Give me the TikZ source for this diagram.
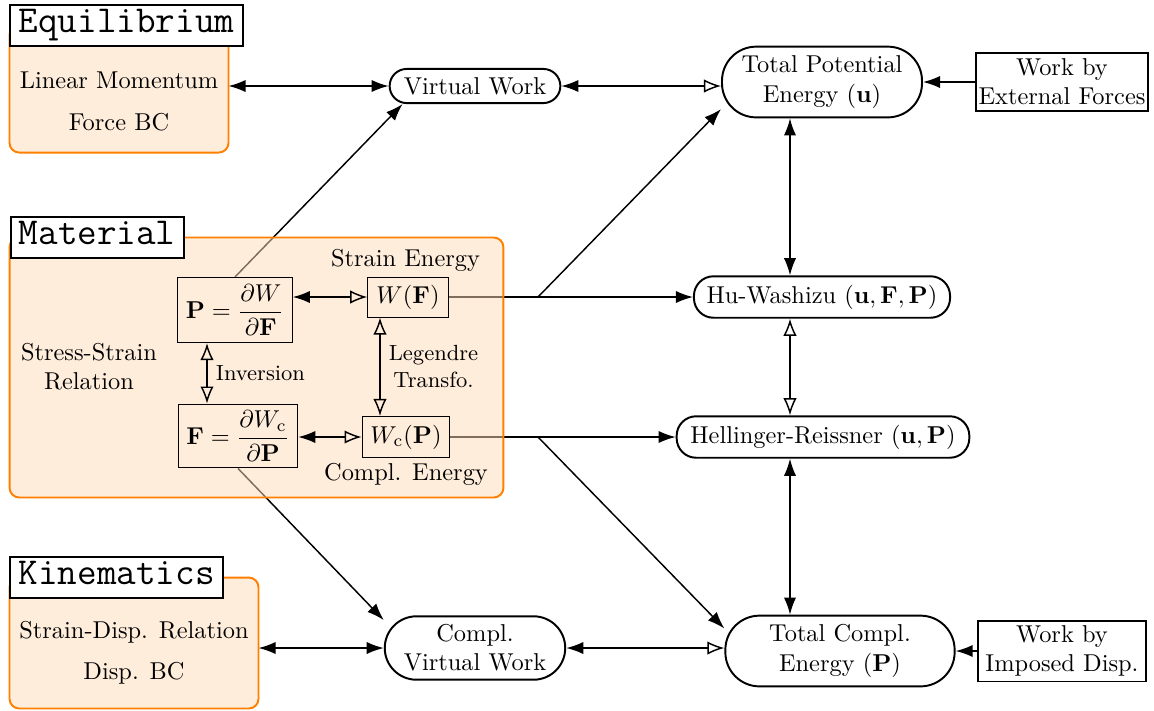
\documentclass[tikz,border=0pt]{standalone}
\usepackage{amsmath}
\usetikzlibrary{arrows.meta,positioning,calc}
\definecolor{panelorange}{RGB}{255,128,0}
\pgfdeclarelayer{lines}
\pgfdeclarelayer{panels}
\pgfsetlayers{lines,panels,main}

\begin{document}
\begin{tikzpicture}[x=0.41pt,y=0.41pt,
    panel/.style={rectangle, inner sep=0pt},
    panelfill/.style={draw=panelorange, line width=0.8pt, fill=panelorange!28, fill opacity=0.5, rounded corners=4pt},
    paneltitle/.style={draw, thick, fill=white, anchor=west, font=\fontsize{15.6}{18}\selectfont\ttfamily, inner xsep=3.4pt, inner ysep=2pt},
    principle/.style={draw, thick, rectangle, align=center, inner xsep=2pt, inner ysep=1pt},
    workbox/.style={draw, thick, rectangle, align=center, inner sep=1pt, minimum width=69pt},
    relbox/.style={draw, thin, rectangle, inner sep=1pt},
    both/.style={semithick, {Latex[length=7pt,width=5pt]}-{Latex[length=7pt,width=5pt]}},
    half/.style={semithick, {Latex[length=7pt,width=5pt]}-{Latex[open,length=7pt,width=5.5pt]}},
    hollow/.style={semithick, {Latex[open,length=7pt,width=5.5pt]}-{Latex[open,length=7pt,width=5.5pt]}},
    feed/.style={semithick, -{Latex[length=7pt,width=5pt]}}
  ]
  \useasboundingbox (0,0) rectangle (1154,-710);

  % panels (filled later, on their own layer)
  \node[panel, minimum width=89.4pt, minimum height=51.7pt] (equi) at (119,-89) {};
  \node[panel, minimum width=202.1pt, minimum height=106.2pt] (mat) at (256.5,-367.5) {};
  \node[panel, minimum width=101.7pt, minimum height=53.3pt] (kin) at (134,-643) {};

  \node (lm) at (119,-80) {Linear Momentum};
  \node (fbc) at (119,-122) {Force BC};
  \node[align=center] (ssr) at (89,-367) {Stress-Strain\\Relation};
  \node (sdr) at (134,-632) {Strain-Disp. Relation};
  \node (dbc) at (134,-673) {Disp. BC};

  % principles
  \node[principle, minimum width=70pt, minimum height=14pt, rounded corners=7pt] (vw) at (475,-86) {Virtual Work};
  \node[principle, minimum width=82pt, minimum height=29pt, rounded corners=14pt] (tpe) at (822,-82) {Total Potential\\Energy $(\mathbf{u})$};
  \node[workbox, minimum height=24pt] (wef) at (1062,-82) {Work by\\External Forces};
  \node[principle, minimum width=105pt, minimum height=17pt, rounded corners=8pt] (hw) at (822,-297) {Hu-Washizu $(\mathbf{u},\mathbf{F},\mathbf{P})$};
  \node[principle, minimum width=120pt, minimum height=17pt, rounded corners=8pt] (hr) at (823,-437) {Hellinger-Reissner $(\mathbf{u},\mathbf{P})$};
  \node[principle, minimum width=94pt, minimum height=29pt, rounded corners=14pt] (tce) at (840,-651) {Total Compl.\\Energy $(\mathbf{P})$};
  \node[workbox, minimum height=25pt] (wid) at (1062,-651) {Work by\\Imposed Disp.};
  \node[principle, minimum width=74pt, minimum height=26pt, rounded corners=13pt] (cvw) at (475,-648) {Compl.\\Virtual Work};

  % material relations
  \node[relbox, minimum width=47pt, minimum height=26.7pt] (pbox) at (235,-310) {$\mathbf{P}=\dfrac{\partial W}{\partial\mathbf{F}}$};
  \node[relbox, minimum width=33pt, minimum height=16.4pt] (wf) at (408,-297) {$W(\mathbf{F})$};
  \node[relbox, minimum width=49pt, minimum height=26.2pt] (fbox) at (238,-436) {$\mathbf{F}=\dfrac{\partial W_{\mathrm{c}}}{\partial\mathbf{P}}$};
  \node[relbox, minimum width=36pt, minimum height=16.8pt] (wc) at (406,-437) {$W_{\mathrm{c}}(\mathbf{P})$};
  \node[above=-1.5pt of wf, xshift=-1pt] (se) {Strain Energy};
  \node[below=-1.5pt of wc] (ce) {Compl. Energy};

  \coordinate (invx) at (207,0);
  \coordinate (legx) at (380,0);
  \coordinate (col) at (790,0);
  \coordinate (jhw) at (538,-297);
  \coordinate (jhr) at (538,-437);

  % connectors
  \draw[both] (vw.west -| equi.east) -- (vw.west);
  \draw[half] (vw.east) -- (vw.east -| tpe.west);
  \draw[feed] (wef.west) -- (tpe.east);
  \draw[both] (tpe.south -| col) -- (hw.north -| col);
  \draw[hollow] (hw.south -| col) -- (hr.north -| col);
  \draw[both] (hr.south -| col) -- (tce.north -| col);
  \draw[both] (cvw.west -| kin.east) -- (cvw.west);
  \draw[half] (cvw.east) -- (cvw.east -| tce.west);
  \draw[feed] (wid.west) -- (tce.east);

  \draw[half] (wf.west -| pbox.east) -- (wf.west);
  \draw[half] (wc.west -| fbox.east) -- (wc.west);
  \draw[hollow] (pbox.south -| invx) -- node[right, font=\small] (inv) {Inversion} (fbox.north -| invx);
  \draw[hollow] (wf.south -| legx) -- node[right, font=\small, align=center] (leg) {Legendre\\Transfo.} (wc.north -| legx);

  % lines leaving the material panel run under its fill
  \begin{pgfonlayer}{lines}
    \draw[feed] (pbox.north) -- (vw.194);
    \draw[feed] (fbox.south) -- (cvw.163);
    \draw[semithick] (wf.east) -- (jhw);
    \draw[feed] (jhw) -- (hw.west);
    \draw[feed] (jhw) -- (tpe.195);
    \draw[semithick] (wc.east) -- (jhr);
    \draw[feed] (jhr) -- (hr.west);
    \draw[feed] (jhr) -- (tce.169);
  \end{pgfonlayer}

  \begin{pgfonlayer}{panels}
    \foreach \p in {equi, mat, kin}
      \draw[panelfill] (\p.south west) rectangle (\p.north east);
  \end{pgfonlayer}
  \node[paneltitle] (equiT) at (equi.north west) {Equilibrium\vphantom{Eq}};
  \node[paneltitle] (matT) at (mat.north west) {Material\vphantom{Eq}};
  \node[paneltitle] (kinT) at (kin.north west) {Kinematics\vphantom{Eq}};
\end{tikzpicture}
\end{document}
